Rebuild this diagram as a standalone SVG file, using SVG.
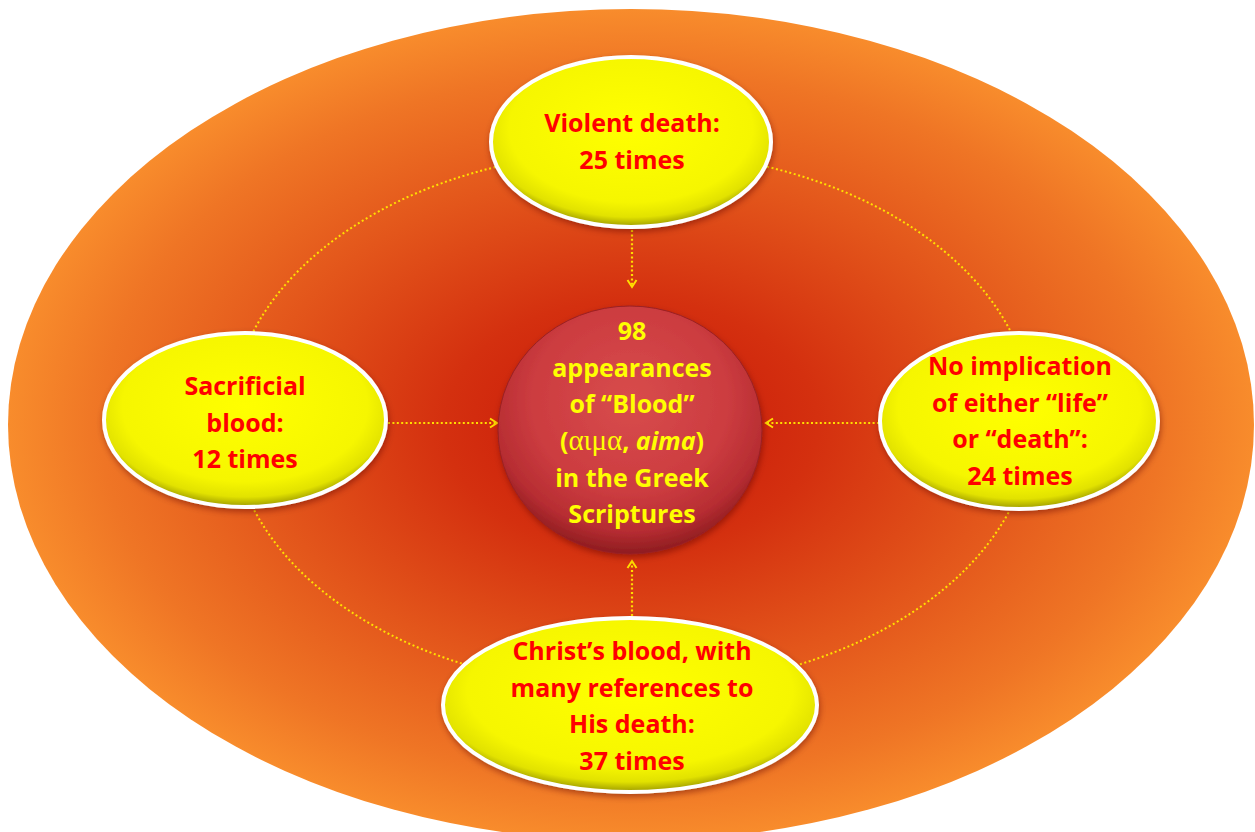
<svg xmlns="http://www.w3.org/2000/svg" width="1255" height="832" viewBox="0 0 1255 832">
  <style>
    .sat { font-family: "Open Sans", Lato, "Liberation Sans", sans-serif; font-weight: bold; font-size: 25px; fill: #ff0000; text-anchor: middle; }
    .ctr { font-family: "Open Sans", Lato, "Liberation Sans", sans-serif; font-weight: bold; font-size: 25px; fill: #ffff00; text-anchor: middle; }
    .greek { font-family: "Liberation Serif", "DejaVu Serif", serif; font-weight: normal; font-size: 29px; }
    .yel { fill: url(#yelGrad); stroke: #ffffff; stroke-width: 4; filter: url(#shadow); }
    .conn { fill: none; stroke: #ffdd00; stroke-width: 2.2; stroke-dasharray: 2 2.4; }
    .ring { fill: none; stroke: #ffe000; stroke-width: 2; stroke-dasharray: 2 2.6; }
  </style>
  <defs>
    <radialGradient id="bgGrad" cx="50%" cy="50%" r="50%">
      <stop offset="0" stop-color="#c81608"/>
      <stop offset="0.3" stop-color="#d4300f"/>
      <stop offset="0.6" stop-color="#e3561b"/>
      <stop offset="0.85" stop-color="#ef7525"/>
      <stop offset="1" stop-color="#f88c2c"/>
    </radialGradient>
    <radialGradient id="yelGrad" cx="50%" cy="42%" r="58%">
      <stop offset="0" stop-color="#ffff00"/>
      <stop offset="0.75" stop-color="#f6f600"/>
      <stop offset="0.9" stop-color="#e2e200"/>
      <stop offset="1" stop-color="#9c9a00"/>
    </radialGradient>
    <radialGradient id="redGrad" cx="50%" cy="38%" r="62%">
      <stop offset="0" stop-color="#d84c4c"/>
      <stop offset="0.6" stop-color="#cc3c40"/>
      <stop offset="0.85" stop-color="#b72d32"/>
      <stop offset="1" stop-color="#8e1c20"/>
    </radialGradient>
    <filter id="shadow" x="-10%" y="-10%" width="125%" height="130%">
      <feDropShadow dx="1" dy="3" stdDeviation="3" flood-color="#5a1000" flood-opacity="0.45"/>
    </filter>
    <marker id="arr" markerUnits="userSpaceOnUse" markerWidth="14" markerHeight="14" refX="9" refY="6" orient="auto">
      <path d="M2,1.5 L9,6 L2,10.5" fill="none" stroke="#ffdd00" stroke-width="2"/>
    </marker>
  </defs>

  <g id="background">
    <ellipse cx="631" cy="425" rx="623" ry="416" fill="url(#bgGrad)"/>
  </g>

  <g id="connectors">
    <ellipse class="ring" cx="632" cy="420" rx="401" ry="269"/>
    <line class="conn" x1="632" y1="230" x2="632" y2="287" marker-end="url(#arr)"/>
    <line class="conn" x1="388" y1="423" x2="497" y2="423" marker-end="url(#arr)"/>
    <line class="conn" x1="879" y1="423" x2="766" y2="423" marker-end="url(#arr)"/>
    <line class="conn" x1="632" y1="616" x2="632" y2="561" marker-end="url(#arr)"/>
  </g>

  <g id="center">
    <ellipse cx="630" cy="430" rx="132" ry="124" fill="url(#redGrad)" stroke="#9a2024" stroke-width="1" filter="url(#shadow)"/>
    <text class="ctr" x="632" y="340">98</text>
    <text class="ctr" x="632" y="377">appearances</text>
    <text class="ctr" x="632" y="413">of “Blood”</text>
    <text class="ctr" x="632" y="450">(<tspan class="greek">αιμα</tspan>, <tspan font-style="italic">aima</tspan>)</text>
    <text class="ctr" x="632" y="487">in the Greek</text>
    <text class="ctr" x="632" y="523">Scriptures</text>
  </g>

  <g id="violent">
    <ellipse class="yel" cx="631" cy="142" rx="140" ry="85"/>
    <text class="sat" x="632" y="132">Violent death:</text>
    <text class="sat" x="632" y="169">25 times</text>
  </g>

  <g id="sacrificial">
    <ellipse class="yel" cx="245" cy="420" rx="141" ry="87"/>
    <text class="sat" x="245" y="395">Sacrificial</text>
    <text class="sat" x="245" y="432">blood:</text>
    <text class="sat" x="245" y="468">12 times</text>
  </g>

  <g id="noimplication">
    <ellipse class="yel" cx="1019" cy="421" rx="139" ry="88"/>
    <text class="sat" x="1020" y="375">No implication</text>
    <text class="sat" x="1020" y="412">of either “life”</text>
    <text class="sat" x="1020" y="448">or “death”:</text>
    <text class="sat" x="1020" y="485">24 times</text>
  </g>

  <g id="christ">
    <ellipse class="yel" cx="630" cy="705" rx="187" ry="87"/>
    <text class="sat" x="632" y="660">Christ’s blood, with</text>
    <text class="sat" x="632" y="697">many references to</text>
    <text class="sat" x="632" y="733">His death:</text>
    <text class="sat" x="632" y="770">37 times</text>
  </g>
</svg>
